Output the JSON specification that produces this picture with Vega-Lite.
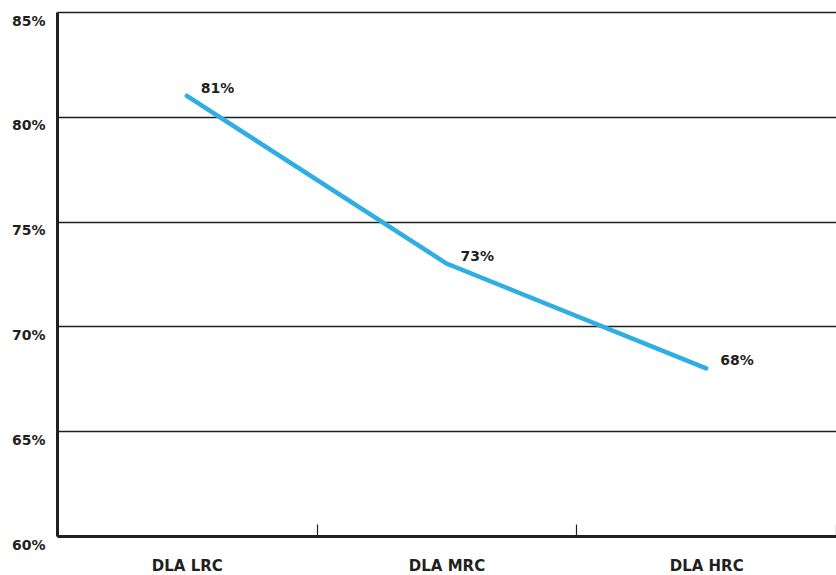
{
  "$schema": "https://vega.github.io/schema/vega-lite/v6.json",
  "width": 779,
  "height": 524,
  "autosize": {"type": "none"},
  "padding": {"left": 57, "top": 12, "right": 0, "bottom": 39},
  "background": "white",
  "config": {
    "view": {"stroke": null},
    "font": "DejaVu Sans",
    "axis": {"labelFont": "DejaVu Sans", "labelFontWeight": "bold", "labelFontSize": 14, "labelColor": "#231f20"}
  },
  "data": {
    "values": [
      {"group": "DLA LRC", "value": 81, "label": "81%"},
      {"group": "DLA MRC", "value": 73, "label": "73%"},
      {"group": "DLA HRC", "value": 68, "label": "68%"}
    ]
  },
  "encoding": {
    "x": {
      "field": "group", "type": "nominal", "sort": null,
      "scale": {"paddingInner": 0, "paddingOuter": 0},
      "axis": {
        "title": null, "labelAngle": 0, "domainColor": "#231f20", "domainWidth": 3,
        "tickBand": "extent", "tickColor": "#231f20", "tickWidth": 1.2, "tickSize": -12,
        "labelPadding": 34, "labelFontSize": 15, "grid": false
      }
    },
    "y": {
      "field": "value", "type": "quantitative",
      "scale": {"domain": [60, 85], "nice": false, "zero": false},
      "axis": {
        "title": null, "values": [60, 65, 70, 75, 80, 85],
        "labelExpr": "datum.value + '%'",
        "domainColor": "#231f20", "domainWidth": 3,
        "ticks": false, "labelPadding": 12, "labelOffset": 9,
        "grid": true, "gridColor": "#231f20", "gridWidth": 1.4, "gridOpacity": 1
      }
    }
  },
  "layer": [
    {"mark": {"type": "line", "color": "#2eaee3", "strokeWidth": 4.5, "strokeCap": "round"}},
    {
      "mark": {"type": "text", "align": "left", "baseline": "middle", "dx": 14, "dy": -7, "font": "DejaVu Sans", "fontWeight": "bold", "fontSize": 14, "color": "#231f20"},
      "encoding": {"text": {"field": "label", "type": "nominal"}}
    }
  ]
}
